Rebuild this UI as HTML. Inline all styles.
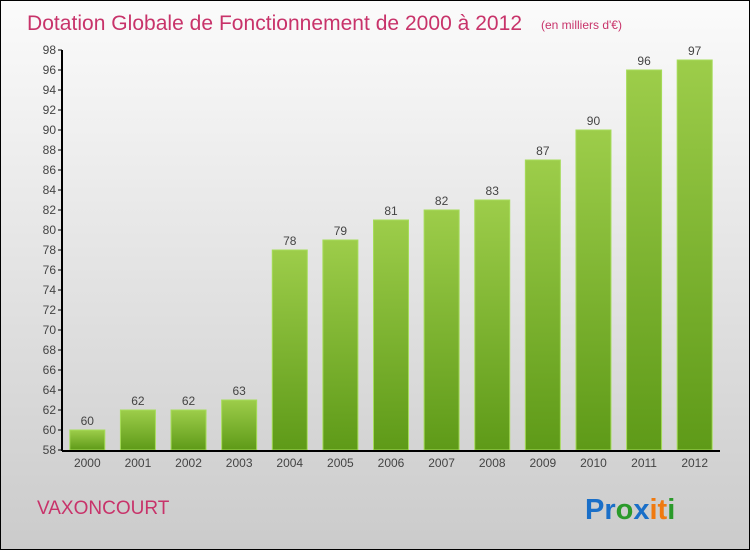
<!DOCTYPE html>
<html><head><meta charset="utf-8"><style>
body{margin:0}
#c{position:relative;width:748px;height:548px;border:1px solid #000;background:linear-gradient(#fbfbfb,#cbcbcb);font-family:"Liberation Sans",sans-serif;overflow:hidden}
</style></head><body>
<div id="c">
<svg width="748" height="548">
<defs><linearGradient id="g" x1="0" y1="0" x2="0" y2="1"><stop offset="0" stop-color="#9dcd4a"/><stop offset="1" stop-color="#5e9a18"/></linearGradient></defs>
<text x="26" y="29" font-size="21" fill="#c8336a" textLength="495">Dotation Globale de Fonctionnement de 2000 à 2012</text>
<text x="540" y="28" font-size="12" fill="#c8336a">(en milliers d'€)</text>
<g id="plot"></g>
<text x="36" y="513" font-size="19" fill="#c8336a">VAXONCOURT</text>
<text x="584" y="518" font-size="29" font-weight="bold"><tspan fill="#1a6fc8">Pr</tspan><tspan fill="#2a9a2a">o</tspan><tspan fill="#1a6fc8">x</tspan><tspan fill="#f07a10">it</tspan><tspan fill="#2a9a2a">i</tspan></text>
</svg></div>
<script>
const years=["2000","2001","2002","2003","2004","2005","2006","2007","2008","2009","2010","2011","2012"];
const values=[60,62,62,63,78,79,81,82,83,87,90,96,97];
const yTicks=[58,60,62,64,66,68,70,72,74,76,78,80,82,84,86,88,90,92,94,96,98];
const NS="http://www.w3.org/2000/svg",p=document.getElementById("plot");
const x0=61,x1=719,yb=449,yt=49,ymin=58,ymax=98;
const y=v=>yb-(v-ymin)/(ymax-ymin)*(yb-yt);
const step=(x1-x0)/years.length;
function mk(t,a,txt){const e=document.createElementNS(NS,t);for(const k in a)e.setAttribute(k,a[k]);if(txt!==undefined)e.textContent=txt;p.appendChild(e);return e;}
yTicks.forEach(v=>{
const l=mk("line",{x1:x0-4,x2:x0,y1:y(v),y2:y(v),stroke:"#000"});


const t=mk("text",{x:x0-6,y:y(v)+4,"text-anchor":"end","font-size":"12",fill:"#444"},v);


});
years.forEach((yr,i)=>{
const cx=x0+step*(i+0.5),v=values[i];
const r=mk("rect",{x:cx-17.5,y:y(v),width:35,height:yb-y(v),fill:"url(#g)",stroke:"#a6dc5a","stroke-width":1});


const vl=mk("text",{x:cx,y:y(v)-5,"text-anchor":"middle","font-size":"12",fill:"#444"},v);


const xl=mk("text",{x:cx,y:yb+17,"text-anchor":"middle","font-size":"12",fill:"#444"},yr);


});
const ax=mk("line",{x1:x0,x2:x0,y1:yt,y2:yb+1,stroke:"#000","stroke-width":2});


const bx=mk("line",{x1:x0,x2:x1,y1:yb+1,y2:yb+1,stroke:"#000","stroke-width":2});


</script>
</body></html>
